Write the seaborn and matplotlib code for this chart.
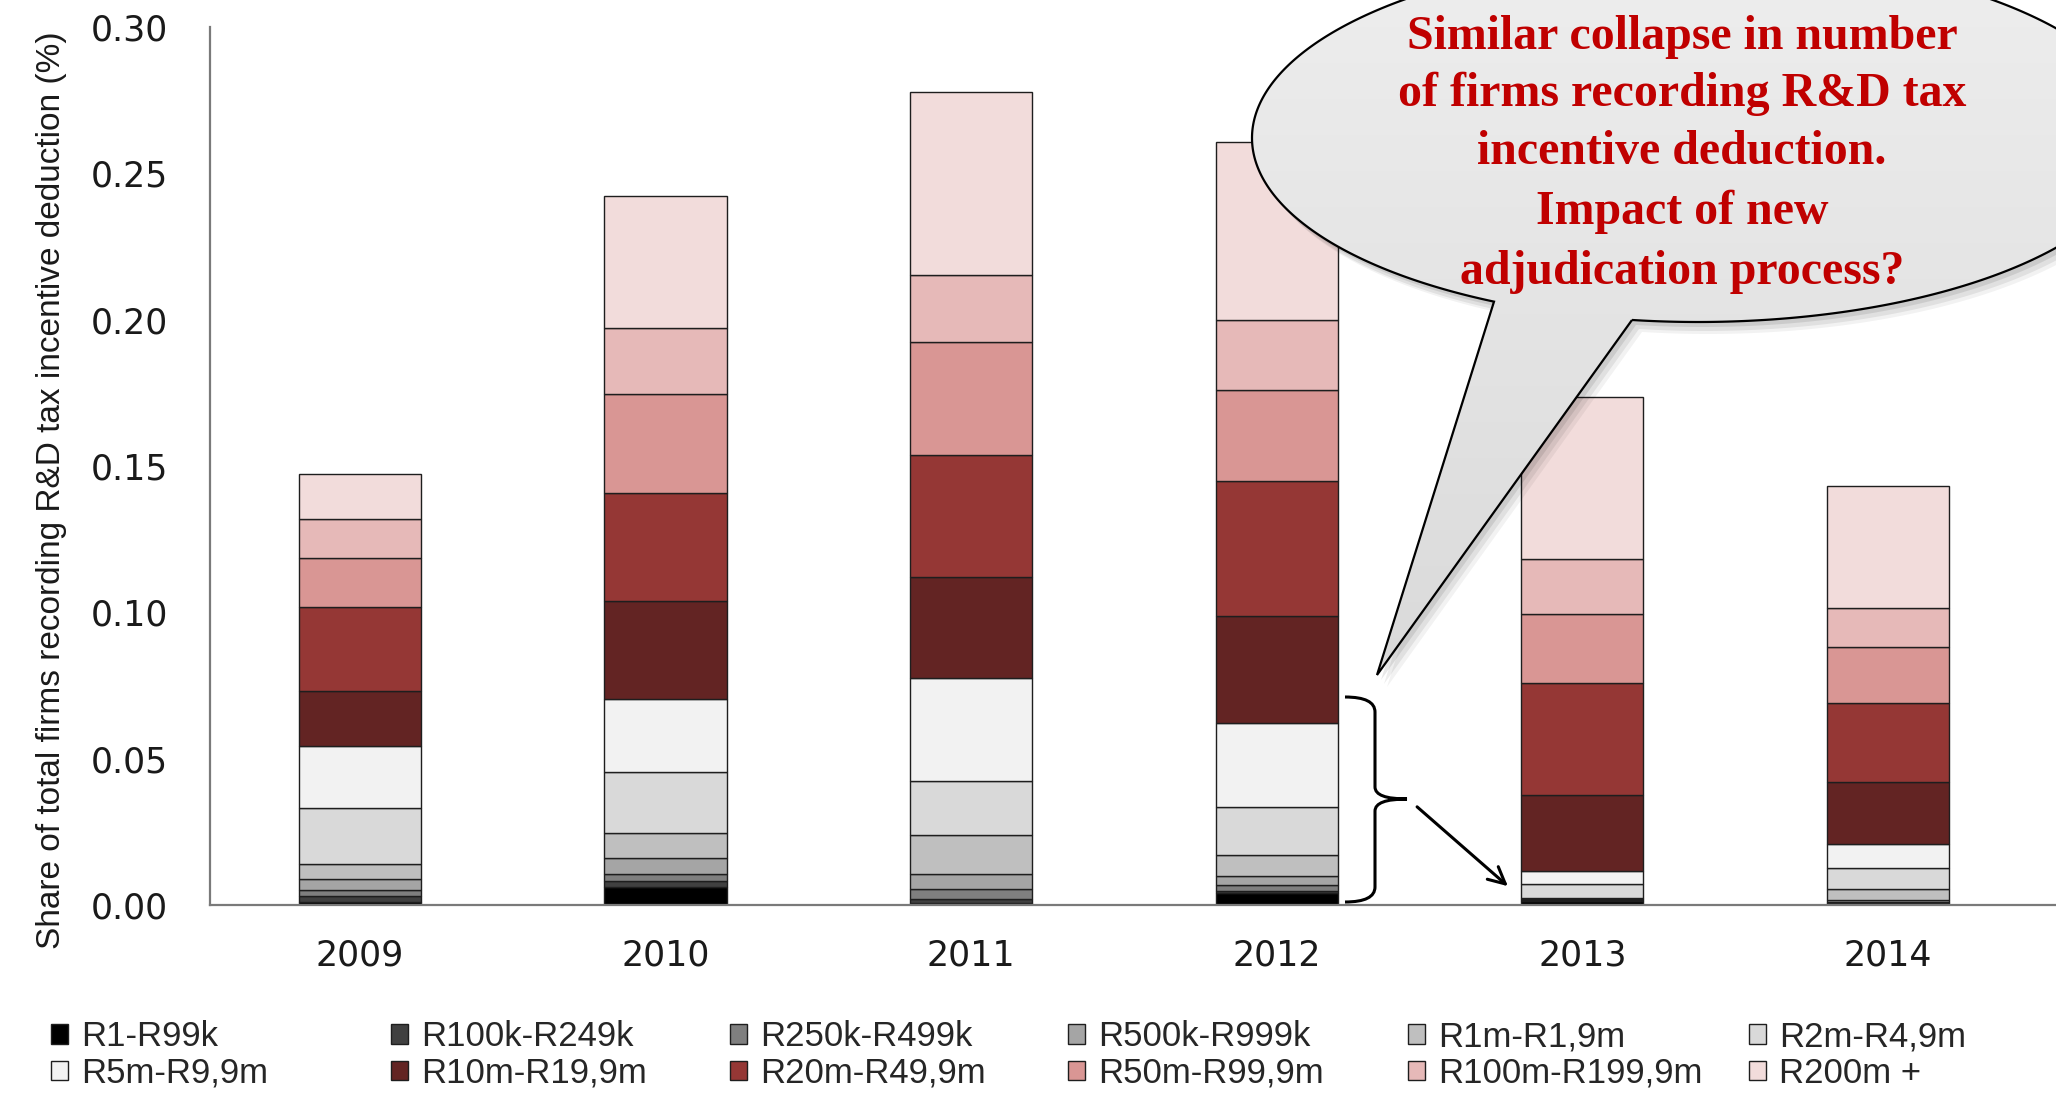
import numpy as np
import pandas as pd
import matplotlib
matplotlib.use("Agg")
import matplotlib.pyplot as plt
from matplotlib import font_manager
import seaborn as sns
from matplotlib.patches import Patch, Polygon, PathPatch
from matplotlib.path import Path
from matplotlib.colors import LinearSegmentedColormap
from matplotlib.ticker import FormatStrFormatter

# ---- data: share of total firms (%) by turnover band ----
years = ["2009", "2010", "2011", "2012", "2013", "2014"]

r1_r99k      = [0.0011, 0.0061, 0.0008, 0.0040, 0.0012, 0.0006]
r100k_r249k  = [0.0021, 0.0021, 0.0011, 0.0007, 0.0002, 0.0002]
r250k_r499k  = [0.0020, 0.0024, 0.0035, 0.0020, 0.0002, 0.0003]
r500k_r999k  = [0.0038, 0.0053, 0.0052, 0.0033, 0.0003, 0.0005]
r1m_r1_9m    = [0.0049, 0.0088, 0.0133, 0.0070, 0.0005, 0.0040]
r2m_r4_9m    = [0.0192, 0.0208, 0.0183, 0.0166, 0.0047, 0.0071]
r5m_r9_9m    = [0.0211, 0.0248, 0.0353, 0.0287, 0.0046, 0.0083]
r10m_r19_9m  = [0.0188, 0.0337, 0.0345, 0.0363, 0.0260, 0.0210]
r20m_r49_9m  = [0.0289, 0.0367, 0.0416, 0.0462, 0.0382, 0.0269]
r50m_r99_9m  = [0.0166, 0.0338, 0.0388, 0.0312, 0.0235, 0.0192]
r100m_r199_9m = [0.0133, 0.0228, 0.0228, 0.0238, 0.0187, 0.0133]
r200m_plus   = [0.0154, 0.0451, 0.0626, 0.0609, 0.0554, 0.0419]

band_labels = ["R1-R99k", "R100k-R249k", "R250k-R499k", "R500k-R999k",
               "R1m-R1,9m", "R2m-R4,9m", "R5m-R9,9m", "R10m-R19,9m",
               "R20m-R49,9m", "R50m-R99,9m", "R100m-R199,9m", "R200m +"]
band_values = [r1_r99k, r100k_r249k, r250k_r499k, r500k_r999k, r1m_r1_9m,
               r2m_r4_9m, r5m_r9_9m, r10m_r19_9m, r20m_r49_9m, r50m_r99_9m,
               r100m_r199_9m, r200m_plus]
band_colors = ["#000000", "#404040", "#7F7F7F", "#A5A5A5", "#BFBFBF", "#D9D9D9",
               "#F2F2F2", "#632423", "#953735", "#D99694", "#E6B9B8", "#F2DCDB"]

callout_lines = ["Similar collapse in number",
                 "of firms recording R&D tax",
                 "incentive deduction.",
                 "Impact of new",
                 "adjudication process?"]

# ---- figure ----
W, H = 2056, 1101
sns.set_theme(style="white")
plt.rcParams["font.family"] = ["DejaVu Sans"]
fig = plt.figure(figsize=(W / 100, H / 100), dpi=100)
ax = fig.add_axes([210 / W, 1 - 905 / H, 1 - 210 / W, (905 - 27) / H])

bottom = np.zeros(len(years))
for label, vals, col in zip(band_labels, band_values, band_colors):
    df = pd.DataFrame({"year": years, "share": vals})
    sns.barplot(data=df, x="year", y="share", bottom=bottom, color=col,
                saturation=1, width=0.4, edgecolor="#1e1e1e", linewidth=1.0,
                errorbar=None, ax=ax)
    bottom = bottom + np.asarray(vals)

ax.set_ylim(0, 0.30)
ax.set_xlim(-0.49, 5.55)
ax.set_yticks(np.arange(0, 0.301, 0.05))
ax.yaxis.set_major_formatter(FormatStrFormatter("%.2f"))
ax.set_xlabel("")
ax.set_ylabel("")
ax.tick_params(axis="both", length=0, labelsize=25, colors="#1a1a1a")
ax.tick_params(axis="y", pad=30)
ax.tick_params(axis="x", pad=24)
for side in ["top", "right"]:
    ax.spines[side].set_visible(False)
for side in ["left", "bottom"]:
    ax.spines[side].set_color("#7a7a7a")
    ax.spines[side].set_linewidth(1.6)

# condensed face for the axis title when available
try:
    font_manager.findfont("Liberation Sans Narrow", fallback_to_default=False)
    ylab_family, ylab_size = "Liberation Sans Narrow", 29
except Exception:
    ylab_family, ylab_size = "Liberation Sans", 24

fig.text(52 / W, 1 - 490 / H,
         "Share of total firms recording R&D tax incentive deduction (%)",
         rotation=90, ha="center", va="center", fontsize=ylab_size,
         family=ylab_family, color="#1a1a1a")

# ---- legend: six columns of two entries ----
col_x = [51, 391, 730, 1068, 1408, 1749]
for c in range(6):
    idx = [c, c + 6]
    handles = [Patch(facecolor=band_colors[i], edgecolor="#1e1e1e", linewidth=1.0)
               for i in idx]
    fig.legend(handles=handles, labels=[band_labels[i] for i in idx],
               loc="center left", bbox_to_anchor=(col_x[c] / W, 1 - 1055 / H),
               frameon=False, prop={"family": "Liberation Sans", "size": 25},
               handlelength=0.5, handleheight=0.5, handletextpad=0.37,
               labelspacing=0.1, borderpad=0, borderaxespad=0)

# ---- speech bubble annotation, drawn in pixel coordinates ----
ov = fig.add_axes([0, 0, 1, 1], zorder=5)
ov.set_xlim(0, W)
ov.set_ylim(H, 0)
ov.axis("off")
ov.patch.set_visible(False)

cx, cy, a, b = 1698, 138, 446, 184
tip = (1377, 675)
t_right = np.arccos((1632 - cx) / a)
t_left = np.arccos((1494 - cx) / a)
t = np.linspace(t_right, t_left - 2 * np.pi, 500)
pts = np.column_stack([cx + a * np.cos(t), cy + b * np.sin(t)])
pts = np.vstack([pts, tip])

for dx, dy, al in [(10, 12, 0.05), (7, 9, 0.07), (4, 5, 0.09)]:
    ov.add_patch(Polygon(pts + [dx, dy], closed=True, facecolor="black",
                         edgecolor="none", alpha=al, zorder=1))

bubble = Polygon(pts, closed=True, facecolor="#E4E4E4", edgecolor="none", zorder=2)
ov.add_patch(bubble)
grad = np.linspace(0, 1, 256).reshape(-1, 1)
cmap = LinearSegmentedColormap.from_list("bubble", ["#EEEEEE", "#DADADA"])
im = ov.imshow(grad, extent=(cx - a, cx + a, tip[1], cy - b), cmap=cmap,
               aspect="auto", zorder=3, interpolation="bilinear")
im.set_clip_path(bubble)
ov.add_patch(Polygon(pts, closed=True, facecolor="none", edgecolor="black",
                     linewidth=1.6, zorder=4))
ov.set_xlim(0, W)
ov.set_ylim(H, 0)

line_y = [37, 94, 152, 212, 272]
for txt, yy in zip(callout_lines, line_y):
    ov.text(1682, yy, txt, ha="center", va="center", fontsize=34.5,
            fontweight="bold", family="Liberation Serif", color="#C00000", zorder=6)

# brace grouping the small-firm bands of 2012, and arrow to 2013
verts = [(1345, 697), (1375, 697), (1375, 712), (1375, 787),
         (1375, 799), (1407, 799), (1375, 799), (1375, 811),
         (1375, 887), (1375, 902), (1345, 902)]
codes = [Path.MOVETO, Path.CURVE3, Path.CURVE3, Path.LINETO,
         Path.CURVE3, Path.CURVE3, Path.CURVE3, Path.CURVE3,
         Path.LINETO, Path.CURVE3, Path.CURVE3]
ov.add_patch(PathPatch(Path(verts, codes), facecolor="none", edgecolor="black",
                       linewidth=2.2, zorder=6))
ov.annotate("", xy=(1510, 888), xytext=(1415, 805),
            arrowprops=dict(arrowstyle="->", lw=2.2, color="black",
                            mutation_scale=30), zorder=6)

fig.savefig("out.png", dpi=100)
